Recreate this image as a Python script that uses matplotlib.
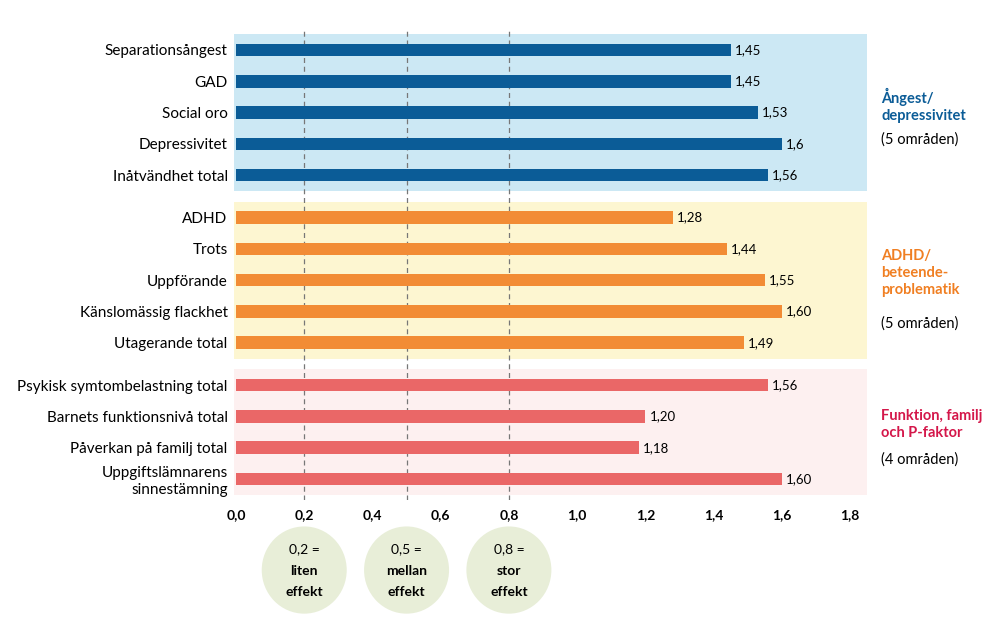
import matplotlib.pyplot as plt
from matplotlib.patches import Rectangle, Ellipse

plt.rcParams['font.family'] = ['Lato', 'DejaVu Sans']

cats = ["Separationsångest", "GAD", "Social oro", "Depressivitet", "Inåtvändhet total",
        "ADHD", "Trots", "Uppförande", "Känslomässig flackhet", "Utagerande total",
        "Psykisk symtombelastning total", "Barnets funktionsnivå total",
        "Påverkan på familj total", "Uppgiftslämnarens\nsinnestämning"]
values = [1.45, 1.45, 1.53, 1.60, 1.56,
          1.28, 1.44, 1.55, 1.60, 1.49,
          1.56, 1.20, 1.18, 1.60]
value_labels = ["1,45", "1,45", "1,53", "1,6", "1,56",
                "1,28", "1,44", "1,55", "1,60", "1,49",
                "1,56", "1,20", "1,18", "1,60"]
groups = [0]*5 + [1]*5 + [2]*4
group_titles = ["Ångest/\ndepressivitet", "ADHD/\nbeteende-\nproblematik", "Funktion, familj\noch P-faktor"]
group_subs = ["(5 områden)", "(5 områden)", "(4 områden)"]
bar_colors = ["#0b5c97", "#f28c35", "#ea6767"]
title_colors = ["#0b5c97", "#f07f22", "#d4174a"]
panel_colors = ["#cce8f4", "#fdf6d1", "#fdf0f0"]
effects = [0.2, 0.5, 0.8]
effect_words = ["liten", "mellan", "stor"]
effect_labels = ["0,2 =", "0,5 =", "0,8 ="]

gap = 0.35
ypos = [i + gap * g for i, g in enumerate(groups)]

fig = plt.figure(figsize=(10, 6.23), dpi=100)
ax = fig.add_axes([0.236, 0.197, 0.614, 0.755])
ax.set_xlim(0, 1.8)
ax.set_ylim(14.38, -0.64)

for g in range(3):
    ys = [y for y, gg in zip(ypos, groups) if gg == g]
    top, bot = min(ys) - 0.5, max(ys) + 0.52
    ax.add_patch(Rectangle((-0.005, top), 1.855, bot - top, facecolor=panel_colors[g],
                           edgecolor='none', clip_on=False, zorder=0,
                           joinstyle='round'))
    mid = (top + bot) / 2
    yf = ax.transData.transform((0, mid))[1] / fig.bbox.height
    t = fig.text(0.881, yf + 0.012, group_titles[g], color=title_colors[g], fontsize=10.5,
                 fontweight='bold', va='center', linespacing=1.3)
    nl = group_titles[g].count("\n")
    fig.text(0.881, yf + 0.012 - (nl + 1) * 0.0255 - 0.004, group_subs[g],
             fontsize=10.5, va='center')

for e in effects:
    ax.axvline(e, color='#777777', lw=0.9, ls=(0, (4, 3)), zorder=1)

ax.barh(ypos, values, height=0.4, color=[bar_colors[g] for g in groups], zorder=2)
for y, v, lab in zip(ypos, values, value_labels):
    ax.text(v + 0.012, y, lab, va='center', fontsize=9.5)

ax.set_yticks(ypos)
ax.set_yticklabels(cats, fontsize=11)
ax.set_xticks([0, 0.2, 0.4, 0.6, 0.8, 1.0, 1.2, 1.4, 1.6, 1.8])
ax.set_xticklabels(["0,0", "0,2", "0,4", "0,6", "0,8", "1,0", "1,2", "1,4", "1,6", "1,8"],
                   fontweight='bold', fontsize=10)
ax.tick_params(length=0, pad=6)
for s in ax.spines.values():
    s.set_visible(False)

for e, lab, w in zip(effects, effect_labels, effect_words):
    xf = ax.transData.transform((e, 0))[0] / fig.bbox.width
    fig.patches.append(Ellipse((xf, 0.085), 0.085, 0.14, transform=fig.transFigure,
                               facecolor='#e8eed8', edgecolor='none'))
    fig.text(xf, 0.118, lab, ha='center', va='center', fontsize=10)
    fig.text(xf, 0.083, w, ha='center', va='center', fontsize=10, fontweight='bold')
    fig.text(xf, 0.05, "effekt", ha='center', va='center', fontsize=10, fontweight='bold')

fig.savefig("out.png", dpi=100)
